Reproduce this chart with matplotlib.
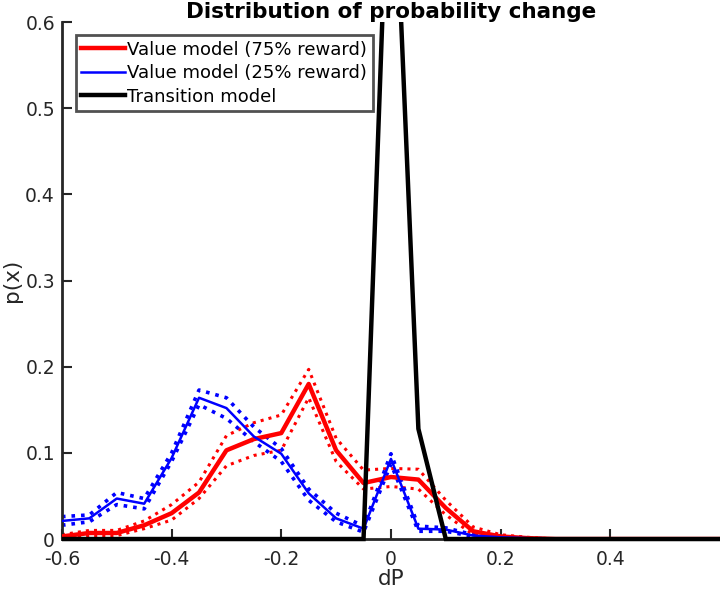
import numpy as np
import matplotlib
matplotlib.use("Agg")
import matplotlib.pyplot as plt
from matplotlib.patches import Rectangle

dp = [-0.6, -0.55, -0.5, -0.45, -0.4, -0.35, -0.3, -0.25, -0.2, -0.15, -0.1, -0.05,
      0.0, 0.05, 0.1, 0.15, 0.2, 0.25, 0.3, 0.35, 0.4, 0.45, 0.5, 0.55, 0.6]

red_mean = [0.003, 0.007, 0.007, 0.016, 0.030, 0.054, 0.103, 0.116, 0.123, 0.180, 0.103, 0.065,
            0.072, 0.069, 0.036, 0.009, 0.003, 0.001, 0.0, 0.0, 0.0, 0.0, 0.0, 0.0, 0.0]
red_upper = [0.005, 0.010, 0.010, 0.021, 0.040, 0.066, 0.120, 0.135, 0.144, 0.197, 0.117, 0.080,
             0.082, 0.081, 0.045, 0.014, 0.005, 0.002, 0.0, 0.0, 0.0, 0.0, 0.0, 0.0, 0.0]
red_lower = [0.001, 0.004, 0.004, 0.012, 0.022, 0.047, 0.085, 0.097, 0.103, 0.164, 0.090, 0.058,
             0.061, 0.058, 0.028, 0.005, 0.001, 0.0, 0.0, 0.0, 0.0, 0.0, 0.0, 0.0, 0.0]

blue_mean = [0.021, 0.024, 0.047, 0.041, 0.094, 0.164, 0.152, 0.119, 0.099, 0.053, 0.024, 0.012,
             0.093, 0.012, 0.011, 0.004, 0.002, 0.001, 0.0, 0.0, 0.0, 0.0, 0.0, 0.0, 0.0]
blue_upper = [0.026, 0.028, 0.054, 0.047, 0.100, 0.173, 0.164, 0.130, 0.105, 0.058, 0.030, 0.015,
              0.099, 0.015, 0.013, 0.005, 0.003, 0.001, 0.0, 0.0, 0.0, 0.0, 0.0, 0.0, 0.0]
blue_lower = [0.016, 0.020, 0.040, 0.035, 0.090, 0.156, 0.140, 0.113, 0.090, 0.045, 0.020, 0.008,
              0.087, 0.009, 0.009, 0.003, 0.001, 0.0, 0.0, 0.0, 0.0, 0.0, 0.0, 0.0, 0.0]

trans_dp = [-0.6, -0.05, 0.0, 0.05, 0.1, 0.6]
trans_p = [0.0, 0.0, 0.88, 0.128, 0.0, 0.0]

xticks = [-0.6, -0.4, -0.2, 0, 0.2, 0.4]
xticklabels = ["-0.6", "-0.4", "-0.2", "0", "0.2", "0.4"]
yticks = [0, 0.1, 0.2, 0.3, 0.4, 0.5, 0.6]
yticklabels = ["0", "0.1", "0.2", "0.3", "0.4", "0.5", "0.6"]

plt.rcParams['font.family'] = ['DejaVu Sans']
fig = plt.figure(figsize=(7.2, 5.9), dpi=100)
ax = fig.add_axes([0.086, 0.0864, 0.914, 0.876])

red = '#ff0000'
blue = '#0000ff'
ax.plot(dp, red_upper, ':', color=red, lw=2.2, zorder=2)
ax.plot(dp, red_lower, ':', color=red, lw=2.2, zorder=2)
ax.plot(dp, blue_upper, ':', color=blue, lw=2.6, zorder=2)
ax.plot(dp, blue_lower, ':', color=blue, lw=2.6, zorder=2)
ax.plot(dp, red_mean, '-', color=red, lw=3.2, zorder=3, label='Value model (75% reward)')
ax.plot(dp, blue_mean, '-', color=blue, lw=1.8, zorder=3, label='Value model (25% reward)')
tl, = ax.plot(trans_dp, trans_p, '-', color='black', lw=3.2, zorder=4, label='Transition model',
              solid_joinstyle='miter')
clip = Rectangle((0, -0.05), 1, 1.05, transform=ax.transAxes, visible=False)
ax.add_patch(clip)
tl.set_clip_path(clip)

ax.set_xlim(-0.6, 0.6)
ax.set_ylim(0, 0.6)
ax.set_xticks(xticks)
ax.set_xticklabels(xticklabels)
ax.set_yticks(yticks)
ax.set_yticklabels(yticklabels)
ax.tick_params(direction='in', length=7, width=1.5, labelsize=13.5, colors='#262626')
ax.tick_params(axis='x', pad=8)
ax.tick_params(axis='y', pad=5)
for s in ['top', 'right']:
    ax.spines[s].set_visible(False)
for s in ['left', 'bottom']:
    ax.spines[s].set_color('#262626')
    ax.spines[s].set_linewidth(2.0)

ax.set_xlabel('dP', fontsize=15.5, color='#262626', labelpad=0)
ax.set_ylabel('p(x)', fontsize=15.5, color='#262626', labelpad=2)
ax.set_title('Distribution of probability change', fontsize=15.5, fontweight='bold', pad=1)

leg = ax.legend(loc='upper left', bbox_to_anchor=(0.013, 0.985), fontsize=13, frameon=True,
                fancybox=False, edgecolor='#262626', handlelength=2.4, handletextpad=0.15,
                borderpad=0.3, labelspacing=0.3, borderaxespad=0.3)
leg.get_frame().set_linewidth(2.0)

fig.savefig('out.png', dpi=100)
